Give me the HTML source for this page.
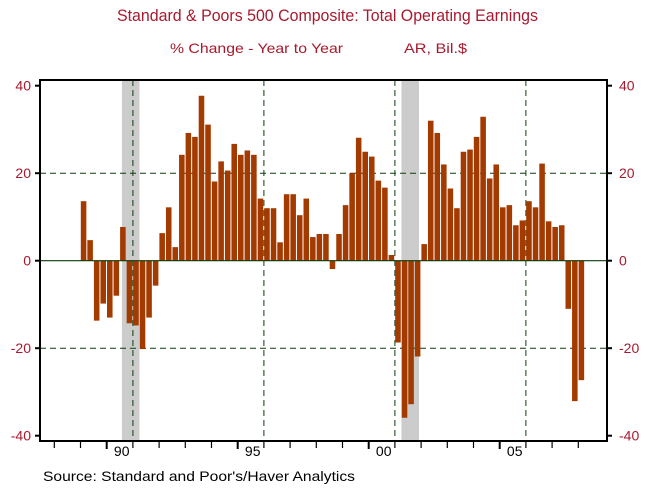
<!DOCTYPE html>
<html><head><meta charset="utf-8"><style>
body{margin:0;background:#fff;}
svg{display:block;font-family:"Liberation Sans",sans-serif;}
</style></head><body>
<svg id="chart" width="654" height="495" viewBox="0 0 654 495">
<text x="117" y="21" font-size="17" textLength="421" lengthAdjust="spacingAndGlyphs" fill="#a8192e">Standard &amp; Poors 500 Composite: Total Operating Earnings</text>
<text x="170" y="53" font-size="14" textLength="173" lengthAdjust="spacingAndGlyphs" fill="#a8192e">% Change - Year to Year</text>
<text x="404" y="53" font-size="14" textLength="63" lengthAdjust="spacingAndGlyphs" fill="#a8192e">AR, Bil.$</text>
<text x="43" y="481" font-size="14" textLength="312" lengthAdjust="spacingAndGlyphs" fill="#000">Source:  Standard and Poor's/Haver Analytics</text>
<g id="plot"></g>
</svg>
<script>
const years=[1989,1990,1991,1992,1993,1994,1995,1996,1997,1998,1999,2000,2001,2002,2003,2004,2005,2006,2007,2008];
const values=[13.6,4.7,-13.7,-9.8, -13,-8,7.7,-14.3, -14.8,-20.2,-13,-5.7, 6.3,12.2,3.1,24.2,
 29.2,28.3,37.7,31.1, 18.1,22.7,20.6,26.7, 24.2,25.2,24.2,14.2, 12.0,12.0,4.2,15.2,
 15.2,10.4,14.2,5.4, 6.1,6.1,-1.9,6.1, 12.7,20,28.1,24.9, 23.8,18.3,16.7,1.3,
 -18.7,-35.9,-32.8,-21.9, 3.8,32,29.2,22, 16.5,12,24.9,25.4, 28.3,32.9,18.8,22,
 12.2,12.7,8.1,9.2, 13.6,12.2,22.2,9.0, 7.7,8.1,-11,-32.1, -27.3];
const yTicks=[40,20,0,-20,-40];
const yearLabels=["90","95","00","05"];
const labelYears=[1990,1995,2000,2005];
const recessions=[[1990.58,1991.25],[2001.25,2001.92]];
const gridYears=[1991,1996,2001,2006];

const NS="http://www.w3.org/2000/svg";
const g=document.getElementById('plot');
const L=40,R=607,T=80,B=441;
const x=t=>106.7+(t-1990)*26.2;
const y=v=>260.7-v*4.375;
function mk(tag,attrs,parent){const e=document.createElementNS(NS,tag);for(const k in attrs)e.setAttribute(k,attrs[k]);(parent||g).appendChild(e);return e;}

recessions.forEach(r=>{
 const e=mk('rect',{x:x(r[0]),y:T,width:x(r[1])-x(r[0]),height:B-T,fill:'#cccccc'});
 
 
});
[20,-20].forEach(v=>{
 const e=mk('line',{x1:L,x2:R,y1:y(v),y2:y(v),stroke:'#0c3d0c','stroke-width':1,'stroke-dasharray':'6,4'});
 
 
});
gridYears.forEach(t=>{
 const e=mk('line',{x1:x(t),x2:x(t),y1:T,y2:B,stroke:'#0c3d0c','stroke-width':1,'stroke-dasharray':'6,4'});
 
 
});
values.forEach((v,i)=>{
 const t=1989+i/4;
 const x0=x(t)+0.3,w=26.2/4-1;
 const e=mk('rect',{x:x0,y:Math.min(y(v),y(0)),width:w,height:Math.abs(y(v)-y(0)),fill:'#a33a00'});
 
 
});
const z=mk('line',{x1:L,x2:R,y1:y(0),y2:y(0),stroke:'#0c3d0c','stroke-width':1.2});


const fr=mk('rect',{x:L,y:T,width:R-L,height:B-T,fill:'none',stroke:'#000','stroke-width':2});


yTicks.forEach(v=>{
 mk('line',{x1:L-5,x2:L,y1:y(v),y2:y(v),stroke:'#000','stroke-width':2});
 mk('line',{x1:R,x2:R+5,y1:y(v),y2:y(v),stroke:'#000','stroke-width':2});
 const a=mk('text',{x:31,y:y(v)+5,'text-anchor':'end','font-size':14,fill:'#a8192e'});a.textContent=v;
 
 
 const b=mk('text',{x:619,y:y(v)+5,'font-size':14,fill:'#a8192e'});b.textContent=v;
 
 
});
for(let t=1988;t<=2008;t++){
 const major=labelYears.includes(t);
 mk('line',{x1:x(t),x2:x(t),y1:B,y2:B+(major?8:7),stroke:'#000','stroke-width':major?2:1.2});
}
labelYears.forEach((t,i)=>{
 const e=mk('text',{x:x(t)+15,y:456,'text-anchor':'middle','font-size':14,fill:'#000'});e.textContent=yearLabels[i];
 
 
});
</script>
</body></html>
